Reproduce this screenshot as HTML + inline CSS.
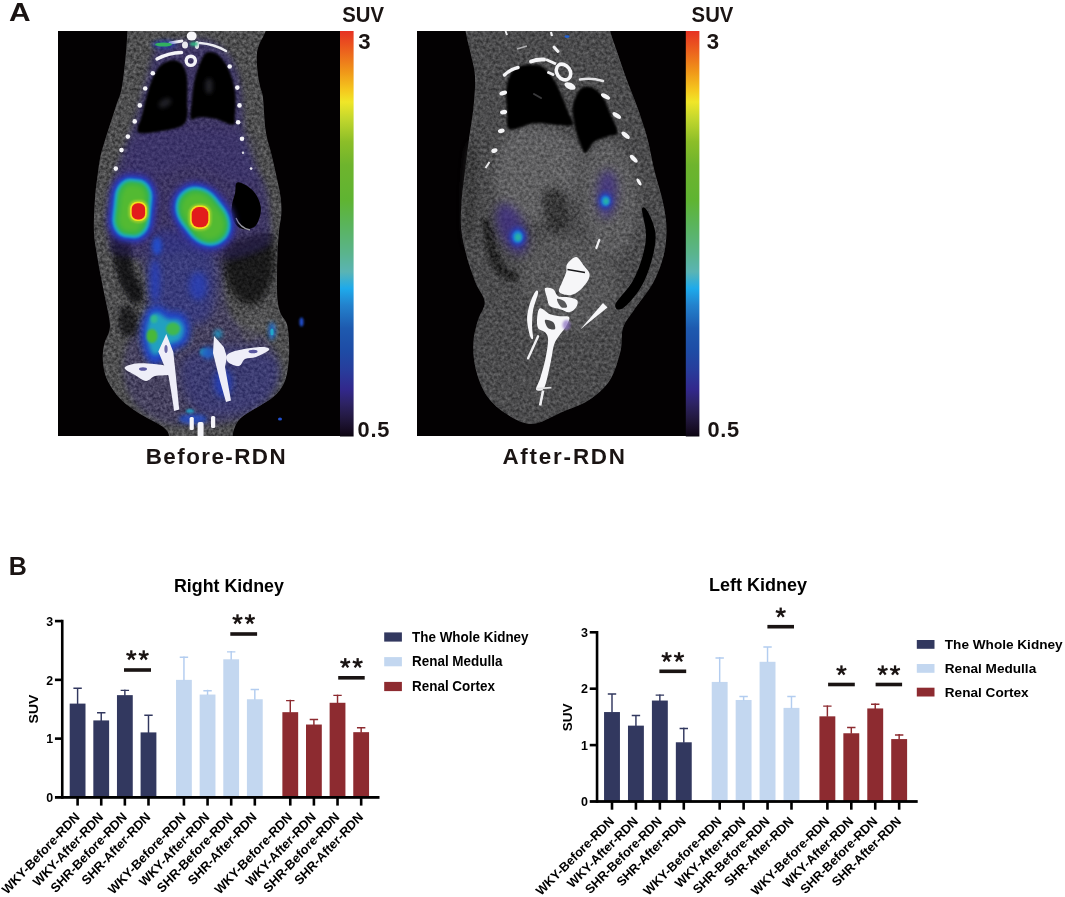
<!DOCTYPE html>
<html><head><meta charset="utf-8"><title>Figure</title>
<style>
html,body{margin:0;padding:0;background:#fff;}
body{width:1065px;height:897px;overflow:hidden;font-family:"Liberation Sans",sans-serif;}
svg{display:block;will-change:transform;}
svg text{font-family:"Liberation Sans",sans-serif;}
</style></head><body>
<svg width="1065" height="897" viewBox="0 0 1065 897">

<defs>
<filter id="b1" x="-50%" y="-50%" width="200%" height="200%"><feGaussianBlur stdDeviation="1"/></filter>
<filter id="b2" x="-50%" y="-50%" width="200%" height="200%"><feGaussianBlur stdDeviation="2"/></filter>
<filter id="b3" x="-50%" y="-50%" width="200%" height="200%"><feGaussianBlur stdDeviation="3.2"/></filter>
<filter id="b5" x="-50%" y="-50%" width="200%" height="200%"><feGaussianBlur stdDeviation="5"/></filter>
<filter id="b8" x="-50%" y="-50%" width="200%" height="200%"><feGaussianBlur stdDeviation="8"/></filter>
<filter id="b06" x="-50%" y="-50%" width="200%" height="200%"><feGaussianBlur stdDeviation="0.6"/></filter>
<filter id="grain" x="0" y="0" width="100%" height="100%" color-interpolation-filters="sRGB">
  <feTurbulence type="fractalNoise" baseFrequency="0.33" numOctaves="2" seed="7" result="n"/>
  <feColorMatrix in="n" type="matrix" values="1.1 0 0 0 -0.23  1.1 0 0 0 -0.23  1.1 0 0 0 -0.23  0 0 0 0 1"/>
  <feComposite operator="in" in2="SourceGraphic"/>
</filter>
<linearGradient id="cbar" x1="0" y1="0" x2="0" y2="1">
<stop offset="0" stop-color="#e63223"/>
<stop offset="0.042" stop-color="#eb5a1e"/>
<stop offset="0.10" stop-color="#f09619"/>
<stop offset="0.146" stop-color="#f5c81e"/>
<stop offset="0.175" stop-color="#f0e628"/>
<stop offset="0.216" stop-color="#c3d72d"/>
<stop offset="0.273" stop-color="#8cbe28"/>
<stop offset="0.331" stop-color="#6eb42d"/>
<stop offset="0.418" stop-color="#5fb432"/>
<stop offset="0.476" stop-color="#5ab45a"/>
<stop offset="0.548" stop-color="#5ab48c"/>
<stop offset="0.594" stop-color="#5ab4b4"/>
<stop offset="0.635" stop-color="#1eaaeb"/>
<stop offset="0.676" stop-color="#2382cd"/>
<stop offset="0.733" stop-color="#1e5aaf"/>
<stop offset="0.791" stop-color="#1e4ba5"/>
<stop offset="0.838" stop-color="#283c9b"/>
<stop offset="0.884" stop-color="#32288c"/>
<stop offset="0.919" stop-color="#2d2364"/>
<stop offset="0.953" stop-color="#231941"/>
<stop offset="0.988" stop-color="#140a1e"/>
<stop offset="1" stop-color="#0a050f"/>
</linearGradient>
<clipPath id="clip1"><rect x="0" y="0" width="282" height="405"/></clipPath>
<clipPath id="clip2"><rect x="0" y="0" width="269" height="405"/></clipPath>
</defs>

<rect width="1065" height="897" fill="#ffffff"/>
<!-- Panel letters -->
<text transform="translate(9.0,20.9) scale(1.15,1.0)" font-size="26" font-weight="bold" fill="#1a1413">A</text>
<text x="8.8" y="574.8" font-size="25" font-weight="bold" fill="#1a1413">B</text>
<!-- PET panel 1 -->
<g transform="translate(58,31)" clip-path="url(#clip1)">
<rect x="0" y="0" width="282" height="405" fill="#030102"/>
<clipPath id="body1"><path d="M69.6 -10.0C46.5 -8.3 69.8 -6.2 69.4 0.0C69.1 6.2 68.5 17.3 67.5 27.0C66.5 36.7 65.1 50.0 63.5 58.0C61.9 66.0 59.8 69.3 58.0 75.0C56.2 80.7 54.2 86.8 52.5 92.0C50.8 97.2 49.7 100.5 48.0 106.0C46.3 111.5 43.9 118.5 42.5 125.0C41.1 131.5 40.4 138.0 39.5 145.0C38.6 152.0 37.6 157.8 37.0 167.0C36.4 176.2 35.6 190.8 35.9 200.0C36.2 209.2 37.6 214.9 38.7 222.3C39.8 229.7 41.2 237.2 42.6 244.6C44.0 252.0 45.6 259.5 47.1 266.9C48.6 274.3 50.8 283.7 51.5 289.2C52.2 294.7 52.1 296.2 51.3 300.0C50.5 303.8 47.7 307.8 46.6 311.7C45.5 315.6 45.0 319.5 44.8 323.4C44.6 327.3 44.8 331.2 45.4 335.1C46.0 339.0 46.7 342.9 48.3 346.8C49.9 350.7 52.1 354.6 54.8 358.5C57.5 362.4 60.4 366.4 64.7 370.3C69.0 374.2 74.3 378.1 80.5 382.0C86.7 385.9 96.9 390.8 101.6 393.7C106.3 396.6 107.1 397.6 108.7 399.5C110.3 401.4 110.6 402.4 111.0 405.0C111.4 407.6 100.4 413.3 111.0 415.0C121.6 416.7 163.9 416.7 174.5 415.0C185.1 413.3 174.2 408.1 174.6 405.0C175.0 401.9 175.5 399.3 176.8 396.3C178.1 393.3 179.3 390.2 182.5 387.2C185.7 384.2 190.4 381.9 196.2 378.1C201.9 374.3 211.8 369.3 217.0 364.4C222.2 359.4 225.2 354.9 227.5 348.4C229.8 341.9 230.5 333.2 231.0 325.6C231.5 318.0 231.0 308.4 230.5 302.7C230.0 297.0 229.5 294.7 228.2 291.3C226.9 287.9 223.9 286.0 222.5 282.2C221.1 278.4 220.1 274.6 219.5 268.5C218.9 262.4 219.0 253.3 219.0 245.7C219.0 238.1 219.2 230.4 219.5 222.8C219.8 215.2 220.4 206.5 221.0 200.0C221.6 193.5 223.0 189.1 223.3 183.6C223.6 178.1 223.5 173.4 222.7 166.9C221.9 160.4 219.9 152.0 218.3 144.6C216.7 137.2 215.0 129.7 213.2 122.3C211.4 114.9 209.1 109.2 207.7 100.0C206.3 90.8 205.9 74.5 205.0 67.0C204.1 59.5 202.9 59.5 202.0 55.0C201.1 50.5 200.0 45.2 199.5 40.0C199.0 34.8 198.6 28.3 198.8 24.0C199.1 19.7 199.5 18.0 201.0 14.0C202.5 10.0 206.5 4.0 207.7 0.0C208.9 -4.0 231.0 -8.3 208.0 -10.0C185.0 -11.7 92.7 -11.7 69.6 -10.0Z"/></clipPath>
<path d="M69.6 -10.0C46.5 -8.3 69.8 -6.2 69.4 0.0C69.1 6.2 68.5 17.3 67.5 27.0C66.5 36.7 65.1 50.0 63.5 58.0C61.9 66.0 59.8 69.3 58.0 75.0C56.2 80.7 54.2 86.8 52.5 92.0C50.8 97.2 49.7 100.5 48.0 106.0C46.3 111.5 43.9 118.5 42.5 125.0C41.1 131.5 40.4 138.0 39.5 145.0C38.6 152.0 37.6 157.8 37.0 167.0C36.4 176.2 35.6 190.8 35.9 200.0C36.2 209.2 37.6 214.9 38.7 222.3C39.8 229.7 41.2 237.2 42.6 244.6C44.0 252.0 45.6 259.5 47.1 266.9C48.6 274.3 50.8 283.7 51.5 289.2C52.2 294.7 52.1 296.2 51.3 300.0C50.5 303.8 47.7 307.8 46.6 311.7C45.5 315.6 45.0 319.5 44.8 323.4C44.6 327.3 44.8 331.2 45.4 335.1C46.0 339.0 46.7 342.9 48.3 346.8C49.9 350.7 52.1 354.6 54.8 358.5C57.5 362.4 60.4 366.4 64.7 370.3C69.0 374.2 74.3 378.1 80.5 382.0C86.7 385.9 96.9 390.8 101.6 393.7C106.3 396.6 107.1 397.6 108.7 399.5C110.3 401.4 110.6 402.4 111.0 405.0C111.4 407.6 100.4 413.3 111.0 415.0C121.6 416.7 163.9 416.7 174.5 415.0C185.1 413.3 174.2 408.1 174.6 405.0C175.0 401.9 175.5 399.3 176.8 396.3C178.1 393.3 179.3 390.2 182.5 387.2C185.7 384.2 190.4 381.9 196.2 378.1C201.9 374.3 211.8 369.3 217.0 364.4C222.2 359.4 225.2 354.9 227.5 348.4C229.8 341.9 230.5 333.2 231.0 325.6C231.5 318.0 231.0 308.4 230.5 302.7C230.0 297.0 229.5 294.7 228.2 291.3C226.9 287.9 223.9 286.0 222.5 282.2C221.1 278.4 220.1 274.6 219.5 268.5C218.9 262.4 219.0 253.3 219.0 245.7C219.0 238.1 219.2 230.4 219.5 222.8C219.8 215.2 220.4 206.5 221.0 200.0C221.6 193.5 223.0 189.1 223.3 183.6C223.6 178.1 223.5 173.4 222.7 166.9C221.9 160.4 219.9 152.0 218.3 144.6C216.7 137.2 215.0 129.7 213.2 122.3C211.4 114.9 209.1 109.2 207.7 100.0C206.3 90.8 205.9 74.5 205.0 67.0C204.1 59.5 202.9 59.5 202.0 55.0C201.1 50.5 200.0 45.2 199.5 40.0C199.0 34.8 198.6 28.3 198.8 24.0C199.1 19.7 199.5 18.0 201.0 14.0C202.5 10.0 206.5 4.0 207.7 0.0C208.9 -4.0 231.0 -8.3 208.0 -10.0C185.0 -11.7 92.7 -11.7 69.6 -10.0Z" fill="#4e4e50" filter="url(#b06)"/>
<g clip-path="url(#body1)">
<path d="M100.0 16.0C95.0 21.8 93.0 35.2 90.0 45.0C87.0 54.8 85.0 65.0 82.0 75.0C79.0 85.0 75.3 95.8 72.0 105.0C68.7 114.2 65.0 120.8 62.0 130.0C59.0 139.2 55.8 148.3 54.0 160.0C52.2 171.7 50.7 189.7 51.0 200.0C51.3 210.3 51.5 217.3 56.0 222.0C60.5 226.7 72.5 223.3 78.0 228.0C83.5 232.7 87.3 241.7 89.0 250.0C90.7 258.3 89.8 270.0 88.0 278.0C86.2 286.0 81.3 291.3 78.0 298.0C74.7 304.7 70.0 310.2 68.0 318.0C66.0 325.8 65.0 336.7 66.0 345.0C67.0 353.3 69.7 361.3 74.0 368.0C78.3 374.7 84.7 380.7 92.0 385.0C99.3 389.3 105.0 392.8 118.0 394.0C131.0 395.2 155.5 395.3 170.0 392.0C184.5 388.7 196.7 381.3 205.0 374.0C213.3 366.7 218.0 356.7 220.0 348.0C222.0 339.3 219.8 329.3 217.0 322.0C214.2 314.7 209.8 309.3 203.0 304.0C196.2 298.7 182.2 297.7 176.0 290.0C169.8 282.3 166.7 268.0 166.0 258.0C165.3 248.0 165.0 237.0 172.0 230.0C179.0 223.0 201.3 221.0 208.0 216.0C214.7 211.0 212.0 209.3 212.0 200.0C212.0 190.7 210.5 170.8 208.0 160.0C205.5 149.2 200.5 143.7 197.0 135.0C193.5 126.3 189.2 118.0 187.0 108.0C184.8 98.0 185.0 84.7 184.0 75.0C183.0 65.3 183.2 58.3 181.0 50.0C178.8 41.7 176.2 31.7 171.0 25.0C165.8 18.3 158.5 12.5 150.0 10.0C141.5 7.5 128.3 9.0 120.0 10.0C111.7 11.0 105.0 10.2 100.0 16.0Z" fill="#45406a" filter="url(#b3)" opacity="0.9"/>
<path d="M54.0 206.0C55.8 199.3 67.7 200.2 71.0 205.0C74.3 209.8 71.8 226.2 74.0 235.0C76.2 243.8 82.5 251.8 84.0 258.0C85.5 264.2 85.2 270.3 83.0 272.0C80.8 273.7 74.8 272.5 71.0 268.0C67.2 263.5 62.8 255.3 60.0 245.0C57.2 234.7 52.2 212.7 54.0 206.0Z" fill="#101012" filter="url(#b2)" opacity="0.95"/>
<path d="M168.0 214.0C172.0 208.3 182.5 207.7 190.0 206.0C197.5 204.3 208.8 197.7 213.0 204.0C217.2 210.3 217.2 232.7 215.0 244.0C212.8 255.3 206.2 268.0 200.0 272.0C193.8 276.0 183.7 273.3 178.0 268.0C172.3 262.7 167.7 249.0 166.0 240.0C164.3 231.0 164.0 219.7 168.0 214.0Z" fill="#141416" filter="url(#b3)" opacity="0.9"/>
<path d="M62.0 277.0C64.3 272.8 74.2 273.7 77.0 278.0C79.8 282.3 81.3 298.8 79.0 303.0C76.7 307.2 65.8 307.3 63.0 303.0C60.2 298.7 59.7 281.2 62.0 277.0Z" fill="#18181a" filter="url(#b2)" opacity="0.8"/>
<path d="M181.0 289.0C183.2 283.8 197.8 279.3 203.0 280.0C208.2 280.7 214.2 287.8 212.0 293.0C209.8 298.2 195.2 311.7 190.0 311.0C184.8 310.3 178.8 294.2 181.0 289.0Z" fill="#58585c" filter="url(#b2)" opacity="0.8"/>
<path d="M69.6 -10.0C46.5 -8.3 69.8 -6.2 69.4 0.0C69.1 6.2 68.5 17.3 67.5 27.0C66.5 36.7 65.1 50.0 63.5 58.0C61.9 66.0 59.8 69.3 58.0 75.0C56.2 80.7 54.2 86.8 52.5 92.0C50.8 97.2 49.7 100.5 48.0 106.0C46.3 111.5 43.9 118.5 42.5 125.0C41.1 131.5 40.4 138.0 39.5 145.0C38.6 152.0 37.6 157.8 37.0 167.0C36.4 176.2 35.6 190.8 35.9 200.0C36.2 209.2 37.6 214.9 38.7 222.3C39.8 229.7 41.2 237.2 42.6 244.6C44.0 252.0 45.6 259.5 47.1 266.9C48.6 274.3 50.8 283.7 51.5 289.2C52.2 294.7 52.1 296.2 51.3 300.0C50.5 303.8 47.7 307.8 46.6 311.7C45.5 315.6 45.0 319.5 44.8 323.4C44.6 327.3 44.8 331.2 45.4 335.1C46.0 339.0 46.7 342.9 48.3 346.8C49.9 350.7 52.1 354.6 54.8 358.5C57.5 362.4 60.4 366.4 64.7 370.3C69.0 374.2 74.3 378.1 80.5 382.0C86.7 385.9 96.9 390.8 101.6 393.7C106.3 396.6 107.1 397.6 108.7 399.5C110.3 401.4 110.6 402.4 111.0 405.0C111.4 407.6 100.4 413.3 111.0 415.0C121.6 416.7 163.9 416.7 174.5 415.0C185.1 413.3 174.2 408.1 174.6 405.0C175.0 401.9 175.5 399.3 176.8 396.3C178.1 393.3 179.3 390.2 182.5 387.2C185.7 384.2 190.4 381.9 196.2 378.1C201.9 374.3 211.8 369.3 217.0 364.4C222.2 359.4 225.2 354.9 227.5 348.4C229.8 341.9 230.5 333.2 231.0 325.6C231.5 318.0 231.0 308.4 230.5 302.7C230.0 297.0 229.5 294.7 228.2 291.3C226.9 287.9 223.9 286.0 222.5 282.2C221.1 278.4 220.1 274.6 219.5 268.5C218.9 262.4 219.0 253.3 219.0 245.7C219.0 238.1 219.2 230.4 219.5 222.8C219.8 215.2 220.4 206.5 221.0 200.0C221.6 193.5 223.0 189.1 223.3 183.6C223.6 178.1 223.5 173.4 222.7 166.9C221.9 160.4 219.9 152.0 218.3 144.6C216.7 137.2 215.0 129.7 213.2 122.3C211.4 114.9 209.1 109.2 207.7 100.0C206.3 90.8 205.9 74.5 205.0 67.0C204.1 59.5 202.9 59.5 202.0 55.0C201.1 50.5 200.0 45.2 199.5 40.0C199.0 34.8 198.6 28.3 198.8 24.0C199.1 19.7 199.5 18.0 201.0 14.0C202.5 10.0 206.5 4.0 207.7 0.0C208.9 -4.0 231.0 -8.3 208.0 -10.0C185.0 -11.7 92.7 -11.7 69.6 -10.0Z" fill="#fff" filter="url(#grain)" opacity="0.4"/>
<path d="M55.0 207.0C56.5 200.5 67.0 201.3 70.0 206.0C73.0 210.7 70.8 226.3 73.0 235.0C75.2 243.7 81.5 252.0 83.0 258.0C84.5 264.0 83.8 269.5 82.0 271.0C80.2 272.5 75.5 271.3 72.0 267.0C68.5 262.7 63.8 255.0 61.0 245.0C58.2 235.0 53.5 213.5 55.0 207.0Z" fill="#08080a" filter="url(#b2)" opacity="0.62"/>
<path d="M170.0 216.0C173.7 210.7 183.0 209.7 190.0 208.0C197.0 206.3 208.0 200.0 212.0 206.0C216.0 212.0 216.0 233.3 214.0 244.0C212.0 254.7 205.7 266.3 200.0 270.0C194.3 273.7 185.3 271.0 180.0 266.0C174.7 261.0 169.7 248.3 168.0 240.0C166.3 231.7 166.3 221.3 170.0 216.0Z" fill="#0a0a0c" filter="url(#b3)" opacity="0.6"/>
<path d="M63.0 279.0C65.0 275.5 73.5 276.3 76.0 280.0C78.5 283.7 80.0 297.5 78.0 301.0C76.0 304.5 66.5 304.7 64.0 301.0C61.5 297.3 61.0 282.5 63.0 279.0Z" fill="#0a0a0c" filter="url(#b2)" opacity="0.5"/>
<path d="M100.0 16.0C95.0 21.8 93.0 35.2 90.0 45.0C87.0 54.8 85.0 65.0 82.0 75.0C79.0 85.0 75.3 95.8 72.0 105.0C68.7 114.2 65.0 120.8 62.0 130.0C59.0 139.2 55.8 148.3 54.0 160.0C52.2 171.7 50.7 189.7 51.0 200.0C51.3 210.3 49.5 217.7 56.0 222.0C62.5 226.3 77.7 226.3 90.0 226.0C102.3 225.7 116.3 219.7 130.0 220.0C143.7 220.3 159.0 228.7 172.0 228.0C185.0 227.3 201.3 220.7 208.0 216.0C214.7 211.3 212.0 209.3 212.0 200.0C212.0 190.7 210.5 170.8 208.0 160.0C205.5 149.2 200.5 143.7 197.0 135.0C193.5 126.3 189.2 118.0 187.0 108.0C184.8 98.0 185.0 84.7 184.0 75.0C183.0 65.3 183.2 58.3 181.0 50.0C178.8 41.7 176.2 31.7 171.0 25.0C165.8 18.3 158.5 12.5 150.0 10.0C141.5 7.5 128.3 9.0 120.0 10.0C111.7 11.0 105.0 10.2 100.0 16.0Z" fill="#33286e" filter="url(#b3)" opacity="0.36"/>
<path d="M100.0 16.0C95.0 21.8 93.0 35.2 90.0 45.0C87.0 54.8 85.0 65.0 82.0 75.0C79.0 85.0 75.3 95.8 72.0 105.0C68.7 114.2 65.0 120.8 62.0 130.0C59.0 139.2 55.8 148.3 54.0 160.0C52.2 171.7 50.7 189.7 51.0 200.0C51.3 210.3 51.5 217.3 56.0 222.0C60.5 226.7 72.5 223.3 78.0 228.0C83.5 232.7 87.3 241.7 89.0 250.0C90.7 258.3 89.8 270.0 88.0 278.0C86.2 286.0 81.3 291.3 78.0 298.0C74.7 304.7 70.0 310.2 68.0 318.0C66.0 325.8 65.0 336.7 66.0 345.0C67.0 353.3 69.7 361.3 74.0 368.0C78.3 374.7 84.7 380.7 92.0 385.0C99.3 389.3 105.0 392.8 118.0 394.0C131.0 395.2 155.5 395.3 170.0 392.0C184.5 388.7 196.7 381.3 205.0 374.0C213.3 366.7 218.0 356.7 220.0 348.0C222.0 339.3 219.8 329.3 217.0 322.0C214.2 314.7 209.8 309.3 203.0 304.0C196.2 298.7 182.2 297.7 176.0 290.0C169.8 282.3 166.7 268.0 166.0 258.0C165.3 248.0 165.0 237.0 172.0 230.0C179.0 223.0 201.3 221.0 208.0 216.0C214.7 211.0 212.0 209.3 212.0 200.0C212.0 190.7 210.5 170.8 208.0 160.0C205.5 149.2 200.5 143.7 197.0 135.0C193.5 126.3 189.2 118.0 187.0 108.0C184.8 98.0 185.0 84.7 184.0 75.0C183.0 65.3 183.2 58.3 181.0 50.0C178.8 41.7 176.2 31.7 171.0 25.0C165.8 18.3 158.5 12.5 150.0 10.0C141.5 7.5 128.3 9.0 120.0 10.0C111.7 11.0 105.0 10.2 100.0 16.0Z" fill="#33286e" filter="url(#b3)" opacity="0.12"/>
<path d="M81.0 104.0C92.2 98.3 116.8 97.0 135.0 97.0C153.2 97.0 179.5 97.7 190.0 104.0C200.5 110.3 197.3 126.8 198.0 135.0C198.7 143.2 198.5 150.7 194.0 153.0C189.5 155.3 180.8 152.0 171.0 149.0C161.2 146.0 146.2 135.8 135.0 135.0C123.8 134.2 114.5 141.7 104.0 144.0C93.5 146.3 78.0 151.2 72.0 149.0C66.0 146.8 66.5 138.5 68.0 131.0C69.5 123.5 69.8 109.7 81.0 104.0Z" fill="#3a3390" filter="url(#b5)" opacity="0.15"/>
<path d="M97.0 203.0C100.8 197.0 104.3 197.5 113.0 199.0C121.7 200.5 141.5 203.0 149.0 212.0C156.5 221.0 158.0 240.2 158.0 253.0C158.0 265.8 155.8 282.3 149.0 289.0C142.2 295.7 126.0 294.5 117.0 293.0C108.0 291.5 99.5 289.7 95.0 280.0C90.5 270.3 89.7 247.8 90.0 235.0C90.3 222.2 93.2 209.0 97.0 203.0Z" fill="#2c35a8" filter="url(#b5)" opacity="0.4"/>
<path d="M125.0 330.0C130.3 321.7 145.0 315.8 160.0 315.0C175.0 314.2 205.3 318.3 215.0 325.0C224.7 331.7 221.3 346.2 218.0 355.0C214.7 363.8 206.3 373.0 195.0 378.0C183.7 383.0 161.2 387.2 150.0 385.0C138.8 382.8 132.2 374.2 128.0 365.0C123.8 355.8 119.7 338.3 125.0 330.0Z" fill="#2a32a0" filter="url(#b5)" opacity="0.3"/>
<path d="M117.6 29.6C120.1 30.2 122.6 31.4 124.4 33.8C126.2 36.2 127.8 39.9 128.6 43.9C129.4 47.9 129.3 52.7 129.4 57.5C129.5 62.3 129.1 68.2 129.1 72.7C129.1 77.2 130.2 80.8 129.4 84.5C128.6 88.2 128.3 92.1 124.4 94.6C120.5 97.1 113.1 98.6 105.8 99.7C98.5 100.8 84.1 103.9 80.4 101.4C76.7 98.9 82.5 90.1 83.8 84.5C85.1 78.9 86.5 73.2 88.0 67.6C89.5 62.0 91.0 55.9 93.1 50.7C95.2 45.5 98.0 39.7 100.7 36.3C103.4 32.9 106.4 31.5 109.2 30.4C112.0 29.3 115.1 29.0 117.6 29.6Z" fill="#050305" filter="url(#b1)"/>
<path d="M151.4 21.1C153.7 21.1 157.1 21.6 159.9 23.7C162.7 25.8 165.8 29.3 168.3 33.8C170.8 38.3 173.6 45.1 175.1 50.7C176.6 56.3 177.3 62.0 177.6 67.6C177.9 73.2 177.2 80.1 176.8 84.5C176.4 88.9 178.2 93.2 175.1 93.8C172.0 94.4 163.8 89.2 158.2 87.9C152.6 86.6 145.5 86.2 141.3 86.2C137.1 86.2 134.1 90.4 132.8 87.9C131.5 85.4 133.1 77.2 133.7 71.0C134.3 64.8 134.9 56.9 136.2 50.7C137.5 44.5 139.6 38.3 141.3 33.8C143.0 29.3 144.6 25.8 146.3 23.7C148.0 21.6 149.1 21.1 151.4 21.1Z" fill="#050305" filter="url(#b1)"/>
<ellipse cx="107" cy="72" rx="7" ry="4" fill="#2a2a30" filter="url(#b2)" opacity="0.8" transform="rotate(-30 107 72)"/>
<ellipse cx="151" cy="55" rx="4" ry="8" fill="#2a2a30" filter="url(#b2)" opacity="0.8"/>
<path d="M178.7 151.8C180.3 150.3 183.9 152.3 186.5 153.5C189.1 154.7 192.1 156.9 194.3 159.1C196.5 161.3 198.5 164.1 199.9 166.9C201.3 169.7 202.3 172.8 202.7 175.8C203.1 178.8 202.9 181.5 202.1 184.7C201.2 187.9 199.6 192.6 197.6 194.8C195.6 197.0 192.4 197.7 189.8 198.1C187.2 198.5 184.2 198.1 182.0 197.0C179.8 195.9 177.9 193.8 176.5 191.4C175.1 189.0 174.1 185.7 173.7 182.5C173.3 179.3 173.6 175.8 174.2 172.5C174.8 169.2 176.2 165.8 177.0 162.4C177.8 159.0 177.1 153.3 178.7 151.8Z" fill="#040204" filter="url(#b06)"/>
<path d="M178 187 Q182 197 192 199" stroke="#9a9aa0" stroke-width="1.3" fill="none" filter="url(#b06)"/>
<circle cx="94.8" cy="42.2" r="2.3" fill="#f4f4f8"/>
<circle cx="87.2" cy="57.5" r="2.3" fill="#f4f4f8"/>
<circle cx="81.8" cy="74.4" r="2.3" fill="#f4f4f8"/>
<circle cx="76.7" cy="90.4" r="2.3" fill="#f4f4f8"/>
<circle cx="69.9" cy="105.6" r="2.3" fill="#f4f4f8"/>
<circle cx="63.5" cy="119.1" r="2.3" fill="#f4f4f8"/>
<circle cx="57.8" cy="137.6" r="2.3" fill="#f4f4f8"/>
<circle cx="171.7" cy="35.5" r="2.3" fill="#f4f4f8"/>
<circle cx="179.3" cy="56.6" r="2.3" fill="#f4f4f8"/>
<circle cx="181.5" cy="74.4" r="2.3" fill="#f4f4f8"/>
<circle cx="180.1" cy="91.3" r="2.3" fill="#f4f4f8"/>
<circle cx="184.0" cy="107.7" r="2.3" fill="#f4f4f8"/>
<circle cx="185" cy="121.8" r="1.2" fill="#d8d8e0"/>
<circle cx="193.1" cy="137.6" r="1.4" fill="#e8e8f0"/>
<g filter="url(#b06)">
<ellipse cx="133.7" cy="5" rx="5" ry="4.6" fill="#f8f8fa"/>
<circle cx="132.8" cy="29.8" r="4.6" fill="none" stroke="#f4f4f8" stroke-width="3.4"/>
<ellipse cx="127" cy="14" rx="3" ry="3.5" fill="#e8e8ee"/>
<ellipse cx="139" cy="14" rx="2.2" ry="4" fill="#e8e8ee"/>
<path d="M99 28 Q110 22 123.5 21.5" stroke="#f4f4f8" stroke-width="3.4" fill="none" stroke-linecap="round"/>
<path d="M142 12 Q156 13 168 20" stroke="#ececf2" stroke-width="2.6" fill="none" stroke-linecap="round"/>
<path d="M112 12 L124 10" stroke="#f0f0f4" stroke-width="2.8" fill="none" stroke-linecap="round"/>
</g>
<ellipse cx="106" cy="13.5" rx="12" ry="4" fill="#2040c0" filter="url(#b2)" opacity="0.7"/>
<ellipse cx="105.5" cy="13.5" rx="8.5" ry="2" fill="#30b060" filter="url(#b06)"/>
<ellipse cx="136" cy="13" rx="4" ry="2" fill="#30b080" filter="url(#b1)"/>
<rect x="50.0" y="142.3" width="48.6" height="70.0" rx="19.4" ry="24.3" fill="#3a30a0" transform="rotate(6 74.3 177.3)" filter="url(#b3)" opacity="0.9"/>
<rect x="53.0" y="145.3" width="42.6" height="64.0" rx="17.0" ry="21.3" fill="#1f3fc8" transform="rotate(6 74.3 177.3)" filter="url(#b2)" />
<rect x="55.4" y="147.7" width="37.8" height="59.2" rx="15.1" ry="18.9" fill="#1f9ed0" transform="rotate(6 74.3 177.3)" filter="url(#b1)" />
<rect x="57.2" y="149.5" width="34.2" height="55.6" rx="13.7" ry="17.1" fill="#22b0a0" transform="rotate(6 74.3 177.3)" filter="url(#b1)" />
<rect x="59.0" y="151.3" width="30.6" height="52.0" rx="12.2" ry="15.3" fill="#35b24a" transform="rotate(6 74.3 177.3)" filter="url(#b1)" />
<rect x="62.0" y="154.3" width="24.6" height="46.0" rx="9.8" ry="12.3" fill="#52ba30" transform="rotate(6 74.3 177.3)" filter="url(#b2)" />
<rect x="70.5" y="169.1" width="19.8" height="22.6" rx="8.4" fill="#9ccc2c" filter="url(#b1)"/>
<rect x="72.1" y="170.7" width="16.6" height="19.4" rx="7.1" fill="#f2e21e" filter="url(#b06)"/>
<rect x="73.7" y="172.3" width="13.4" height="16.2" rx="5.7" fill="#e21c1c" filter="url(#b06)"/>
<rect x="117.5" y="147.7" width="55.0" height="75.0" rx="26.1" ry="32.7" fill="#3a30a0" transform="rotate(-38 145.0 185.2)" filter="url(#b3)" opacity="0.9"/>
<rect x="120.5" y="150.7" width="49.0" height="69.0" rx="23.3" ry="29.1" fill="#1f3fc8" transform="rotate(-38 145.0 185.2)" filter="url(#b2)" />
<rect x="122.9" y="153.1" width="44.2" height="64.2" rx="21.0" ry="26.2" fill="#1f9ed0" transform="rotate(-38 145.0 185.2)" filter="url(#b1)" />
<rect x="124.7" y="154.9" width="40.6" height="60.6" rx="19.3" ry="24.1" fill="#22b0a0" transform="rotate(-38 145.0 185.2)" filter="url(#b1)" />
<rect x="126.5" y="156.7" width="37.0" height="57.0" rx="17.6" ry="22.0" fill="#35b24a" transform="rotate(-38 145.0 185.2)" filter="url(#b1)" />
<rect x="129.5" y="159.7" width="31.0" height="51.0" rx="14.7" ry="18.4" fill="#52ba30" transform="rotate(-38 145.0 185.2)" filter="url(#b2)" />
<rect x="130.5" y="172.9" width="23.0" height="26.6" rx="9.8" fill="#9ccc2c" filter="url(#b1)"/>
<rect x="132.1" y="174.5" width="19.8" height="23.4" rx="8.4" fill="#f2e21e" filter="url(#b06)"/>
<rect x="133.7" y="176.1" width="16.6" height="20.2" rx="7.1" fill="#e21c1c" filter="url(#b06)"/>
<ellipse cx="99" cy="215" rx="5" ry="9" fill="#2050d0" filter="url(#b2)" opacity="0.9"/>
<ellipse cx="97" cy="250" rx="5" ry="22" fill="#2540c0" filter="url(#b3)" opacity="0.8"/>
<ellipse cx="140" cy="255" rx="9" ry="14" fill="#2540c0" filter="url(#b3)" opacity="0.7"/>
<path d="M91.0 281.0C93.4 277.2 96.8 276.7 100.0 277.0C103.2 277.3 106.2 281.7 110.0 283.0C113.8 284.3 119.8 282.7 123.0 285.0C126.2 287.3 129.0 292.7 129.5 297.0C130.0 301.3 128.6 307.7 126.0 311.0C123.4 314.3 117.3 314.5 114.0 317.0C110.7 319.5 109.2 323.7 106.0 326.0C102.8 328.3 98.0 332.2 95.0 331.0C92.0 329.8 89.6 324.2 88.0 319.0C86.4 313.8 85.0 306.3 85.5 300.0C86.0 293.7 88.6 284.8 91.0 281.0Z" fill="#2244c8" stroke="#2244c8" stroke-width="5" filter="url(#b3)"/>
<path d="M93.0 285.0C94.8 282.0 97.2 281.5 100.0 282.0C102.8 282.5 106.5 286.8 110.0 288.0C113.5 289.2 118.3 287.3 121.0 289.0C123.7 290.7 125.8 294.7 126.0 298.0C126.2 301.3 124.3 306.5 122.0 309.0C119.7 311.5 115.0 311.2 112.0 313.0C109.0 314.8 106.7 318.2 104.0 320.0C101.3 321.8 98.2 324.8 96.0 324.0C93.8 323.2 92.2 319.0 91.0 315.0C89.8 311.0 88.7 305.0 89.0 300.0C89.3 295.0 91.2 288.0 93.0 285.0Z" fill="#20a0c0" filter="url(#b2)"/>
<ellipse cx="94" cy="305" rx="5.5" ry="7" fill="#48b838" filter="url(#b1)"/>
<ellipse cx="115" cy="298" rx="7" ry="6.5" fill="#40b850" filter="url(#b1)"/>
<ellipse cx="96" cy="288" rx="3.5" ry="4" fill="#30b890" filter="url(#b1)"/>
<ellipse cx="146" cy="321" rx="4" ry="3.5" fill="#20a0b0" filter="url(#b1)" opacity="0.9"/>
<ellipse cx="150" cy="322" rx="7" ry="6" fill="#2060c8" filter="url(#b2)" opacity="0.9"/>
<ellipse cx="160" cy="303" rx="4" ry="4" fill="#2098c8" filter="url(#b2)" opacity="0.9"/>
<ellipse cx="214" cy="300" rx="3.5" ry="9" fill="#2070d0" filter="url(#b2)" opacity="0.9"/>
<ellipse cx="214" cy="301" rx="1.6" ry="3.5" fill="#20a8c8" filter="url(#b06)"/>
<ellipse cx="165" cy="352" rx="9" ry="14" fill="#2040c0" filter="url(#b3)" opacity="0.8"/>
<ellipse cx="135" cy="388" rx="14" ry="5" fill="#2050d0" filter="url(#b2)" opacity="0.8"/>
<ellipse cx="132" cy="380" rx="4" ry="2" fill="#20a0c8" filter="url(#b1)" opacity="0.9"/>
<g filter="url(#b06)" fill="#eeeef8">
<path d="M66.5 337.0C66.7 335.1 73.1 333.2 78.0 332.5C82.9 331.8 90.5 332.4 96.0 333.0C101.5 333.6 108.5 334.2 111.0 336.0C113.5 337.8 113.3 342.0 111.0 343.5C108.7 345.0 100.8 343.9 97.0 345.0C93.2 346.1 91.3 350.2 88.0 350.0C84.7 349.8 80.6 346.2 77.0 344.0C73.4 341.8 66.3 338.9 66.5 337.0Z"/>
<path d="M108.3 303 L115.3 321 L117.8 344 L121.2 378.5 L116.2 380 L112.6 357 L110.5 345 L100.3 320.5 Z"/>
<path d="M170.0 323.0C172.7 320.8 180.2 319.2 186.0 318.0C191.8 316.8 200.8 315.8 205.0 316.0C209.2 316.2 212.2 317.3 211.0 319.0C209.8 320.7 202.0 324.5 198.0 326.0C194.0 327.5 189.8 326.5 187.0 328.0C184.2 329.5 183.8 334.5 181.0 335.0C178.2 335.5 171.8 333.0 170.0 331.0C168.2 329.0 167.3 325.2 170.0 323.0Z"/>
<path d="M156 305 L165.8 316 L169 326 L167 336 L173 369.5 L168 371 L162 350 L155 322 Z"/>
</g>
<ellipse cx="85" cy="338" rx="4" ry="1.8" fill="#5a58a0"/>
<ellipse cx="195" cy="320.5" rx="4.5" ry="1.8" fill="#5a58a0"/>
<ellipse cx="108" cy="318" rx="1.6" ry="4" fill="#6a68a8"/>
<g filter="url(#b06)" fill="#f4f4f8">
<rect x="131.6" y="386" width="4.2" height="13" rx="1.5"/>
<rect x="139.6" y="391" width="6" height="16" rx="2"/>
<rect x="153" y="385" width="4.2" height="12" rx="1.5"/>
</g>
</g>
<ellipse cx="243.5" cy="291" rx="2" ry="4.5" fill="#2050d0" filter="url(#b1)"/>
<ellipse cx="222" cy="388" rx="2" ry="1.5" fill="#2050d0" filter="url(#b06)"/>
</g>
<rect x="340" y="31" width="13.6" height="405.5" fill="url(#cbar)"/>
<text transform="translate(342.2,22.1) scale(1,1.06)" font-size="20.3" font-weight="bold" fill="#1a1413">SUV</text>
<text x="358.2" y="49.4" font-size="22.2" font-weight="bold" fill="#1a1413">3</text>
<text x="357.6" y="436.5" font-size="21.8" font-weight="bold" fill="#1a1413" letter-spacing="0.7">0.5</text>
<text x="216.4" y="464.0" font-size="22.4" font-weight="bold" fill="#1a1413" text-anchor="middle" letter-spacing="1.45">Before-RDN</text>
<!-- PET panel 2 -->
<g transform="translate(417,31)" clip-path="url(#clip2)">
<rect x="0" y="0" width="269" height="405" fill="#030102"/>
<path d="M48.6 -10.0C24.5 -8.3 47.8 -5.3 48.6 0.0C49.4 5.3 51.9 14.5 53.5 22.0C55.1 29.5 57.5 36.0 58.0 45.0C58.5 54.0 57.5 65.5 56.5 76.0C55.5 86.5 53.4 97.3 52.0 108.0C50.6 118.7 49.2 129.5 48.0 140.0C46.8 150.5 45.1 161.3 44.5 171.0C43.9 180.7 43.4 189.0 44.2 198.0C45.1 207.0 47.2 216.0 49.6 225.0C52.0 234.0 55.7 244.3 58.7 252.0C61.7 259.7 67.3 264.8 67.7 271.0C68.1 277.2 62.9 282.3 61.0 289.0C59.1 295.7 56.8 302.8 56.4 311.0C56.0 319.2 56.5 329.0 58.7 338.0C61.0 347.0 64.6 357.4 69.9 365.0C75.2 372.6 82.7 378.9 90.3 383.6C97.9 388.3 106.5 393.4 115.5 393.0C124.5 392.6 134.6 385.5 144.0 381.5C153.4 377.5 163.8 374.4 172.0 369.0C180.2 363.6 187.8 357.2 193.0 349.0C198.2 340.8 201.3 328.7 203.5 320.0C205.7 311.3 203.8 303.8 206.0 297.0C208.2 290.2 212.0 286.5 217.0 279.0C222.0 271.5 231.1 261.0 236.0 252.0C240.9 243.0 244.2 234.0 246.5 225.0C248.8 216.0 249.6 207.0 249.5 198.0C249.4 189.0 247.9 180.7 245.9 171.0C243.9 161.3 240.1 150.5 237.5 140.0C234.9 129.5 233.2 118.3 230.5 108.0C227.8 97.7 224.5 88.0 221.0 78.0C217.5 68.0 212.9 57.3 209.5 48.0C206.1 38.7 203.2 30.0 200.5 22.0C197.8 14.0 194.4 5.3 193.2 0.0C192.0 -5.3 217.3 -8.3 193.2 -10.0C169.1 -11.7 72.7 -11.7 48.6 -10.0Z" fill="#4a4a4c" filter="url(#b06)"/>
<path d="M90.0 104.0C98.2 95.3 114.7 95.5 126.0 97.0C137.3 98.5 152.0 105.2 158.0 113.0C164.0 120.8 163.5 132.8 162.0 144.0C160.5 155.2 156.5 172.3 149.0 180.0C141.5 187.7 126.8 190.0 117.0 190.0C107.2 190.0 96.7 186.8 90.0 180.0C83.3 173.2 77.0 161.7 77.0 149.0C77.0 136.3 81.8 112.7 90.0 104.0Z" fill="#6c6c6e" filter="url(#b5)" opacity="0.9"/>
<path d="M167.0 131.0C171.2 122.0 182.5 108.0 190.0 108.0C197.5 108.0 206.8 120.5 212.0 131.0C217.2 141.5 221.0 157.5 221.0 171.0C221.0 184.5 217.2 202.8 212.0 212.0C206.8 221.2 196.8 228.2 190.0 226.0C183.2 223.8 175.2 209.7 171.0 199.0C166.8 188.3 165.7 173.3 165.0 162.0C164.3 150.7 162.8 140.0 167.0 131.0Z" fill="#68686a" filter="url(#b5)" opacity="0.85"/>
<path d="M110.0 215.0C117.5 206.7 136.7 203.3 150.0 205.0C163.3 206.7 181.7 214.2 190.0 225.0C198.3 235.8 203.3 257.5 200.0 270.0C196.7 282.5 181.7 296.7 170.0 300.0C158.3 303.3 140.8 297.5 130.0 290.0C119.2 282.5 108.3 267.5 105.0 255.0C101.7 242.5 102.5 223.3 110.0 215.0Z" fill="#606062" filter="url(#b5)" opacity="0.7"/>
<path d="M65.0 190.0C65.3 184.0 71.5 187.8 74.0 192.0C76.5 196.2 77.7 207.8 80.0 215.0C82.3 222.2 84.5 230.3 88.0 235.0C91.5 239.7 99.2 240.5 101.0 243.0C102.8 245.5 101.8 249.5 99.0 250.0C96.2 250.5 88.5 249.7 84.0 246.0C79.5 242.3 75.2 237.3 72.0 228.0C68.8 218.7 64.7 196.0 65.0 190.0Z" fill="#0e0e10" filter="url(#b2)" opacity="0.9"/>
<path d="M126.0 162.0C128.3 156.0 141.7 157.0 146.0 160.0C150.3 163.0 151.7 173.7 152.0 180.0C152.3 186.3 151.3 195.3 148.0 198.0C144.7 200.7 135.7 202.0 132.0 196.0C128.3 190.0 123.7 168.0 126.0 162.0Z" fill="#1c1c1e" filter="url(#b3)" opacity="0.8"/>
<path d="M50.0 120.0C52.3 110.0 58.7 108.3 60.0 120.0C61.3 131.7 59.7 174.2 58.0 190.0C56.3 205.8 52.0 216.7 50.0 215.0C48.0 213.3 46.0 195.8 46.0 180.0C46.0 164.2 47.7 130.0 50.0 120.0Z" fill="#2a2a2c" filter="url(#b3)" opacity="0.7"/>
<path d="M48.6 -10.0C24.5 -8.3 47.8 -5.3 48.6 0.0C49.4 5.3 51.9 14.5 53.5 22.0C55.1 29.5 57.5 36.0 58.0 45.0C58.5 54.0 57.5 65.5 56.5 76.0C55.5 86.5 53.4 97.3 52.0 108.0C50.6 118.7 49.2 129.5 48.0 140.0C46.8 150.5 45.1 161.3 44.5 171.0C43.9 180.7 43.4 189.0 44.2 198.0C45.1 207.0 47.2 216.0 49.6 225.0C52.0 234.0 55.7 244.3 58.7 252.0C61.7 259.7 67.3 264.8 67.7 271.0C68.1 277.2 62.9 282.3 61.0 289.0C59.1 295.7 56.8 302.8 56.4 311.0C56.0 319.2 56.5 329.0 58.7 338.0C61.0 347.0 64.6 357.4 69.9 365.0C75.2 372.6 82.7 378.9 90.3 383.6C97.9 388.3 106.5 393.4 115.5 393.0C124.5 392.6 134.6 385.5 144.0 381.5C153.4 377.5 163.8 374.4 172.0 369.0C180.2 363.6 187.8 357.2 193.0 349.0C198.2 340.8 201.3 328.7 203.5 320.0C205.7 311.3 203.8 303.8 206.0 297.0C208.2 290.2 212.0 286.5 217.0 279.0C222.0 271.5 231.1 261.0 236.0 252.0C240.9 243.0 244.2 234.0 246.5 225.0C248.8 216.0 249.6 207.0 249.5 198.0C249.4 189.0 247.9 180.7 245.9 171.0C243.9 161.3 240.1 150.5 237.5 140.0C234.9 129.5 233.2 118.3 230.5 108.0C227.8 97.7 224.5 88.0 221.0 78.0C217.5 68.0 212.9 57.3 209.5 48.0C206.1 38.7 203.2 30.0 200.5 22.0C197.8 14.0 194.4 5.3 193.2 0.0C192.0 -5.3 217.3 -8.3 193.2 -10.0C169.1 -11.7 72.7 -11.7 48.6 -10.0Z" fill="#fff" filter="url(#grain)" opacity="0.32"/>
<path d="M225.0 178.0C225.3 174.3 228.8 176.8 231.0 181.0C233.2 185.2 237.9 194.8 238.5 203.0C239.1 211.2 237.0 221.0 234.5 230.0C232.0 239.0 228.3 249.1 223.5 257.0C218.7 264.9 209.7 274.8 205.5 277.5C201.3 280.2 196.8 277.5 198.5 273.0C200.2 268.5 211.0 258.4 215.5 250.5C220.0 242.6 223.2 233.4 225.5 225.5C227.8 217.6 229.1 210.9 229.0 203.0C228.9 195.1 224.7 181.7 225.0 178.0Z" fill="#060406" filter="url(#b06)"/>
<path d="M99.3 36.6C102.8 34.4 108.1 33.9 112.5 33.8C116.9 33.6 121.5 33.2 125.6 35.7C129.7 38.2 133.8 44.1 136.9 48.8C140.0 53.5 141.9 58.2 144.4 63.8C146.9 69.4 150.0 77.6 151.9 82.6C153.8 87.6 157.6 92.0 155.7 93.9C153.8 95.8 147.0 94.2 140.7 93.9C134.4 93.6 125.0 91.4 118.1 92.0C111.2 92.6 103.8 96.9 99.3 97.7C94.8 98.5 92.5 99.8 90.9 96.7C89.3 93.6 90.2 84.7 89.9 78.9C89.6 73.1 88.7 67.3 89.0 62.0C89.3 56.7 90.1 51.1 91.8 46.9C93.5 42.7 95.8 38.8 99.3 36.6Z" fill="#050305" filter="url(#b1)"/>
<path d="M163.2 58.2C166.3 55.1 170.8 55.0 174.5 56.3C178.2 57.5 182.6 61.3 185.7 65.7C188.8 70.1 190.7 76.6 193.2 82.6C195.7 88.5 201.0 97.6 200.7 101.4C200.4 105.2 195.3 103.6 191.4 105.2C187.5 106.8 181.0 108.0 177.2 110.8C173.4 113.6 171.1 121.8 168.8 122.1C166.5 122.4 165.1 117.4 163.2 112.7C161.3 108.0 158.8 100.2 157.6 93.9C156.3 87.6 154.8 81.0 155.7 75.1C156.6 69.1 160.1 61.3 163.2 58.2Z" fill="#050305" filter="url(#b1)"/>
<path d="M117 63 L124 67" stroke="#3a3a3c" stroke-width="2" stroke-linecap="round"/>
<g filter="url(#b06)" fill="#f4f4f6">
<path d="M87.5 44 Q93 38.5 101 36.5" stroke="#f4f4f6" stroke-width="3.4" fill="none" stroke-linecap="round"/>
<ellipse cx="86.2" cy="62.0" rx="4" ry="2.2" transform="rotate(-20 86.2 62.0)"/>
<ellipse cx="86.6" cy="81.1" rx="3.6" ry="2.2" transform="rotate(-10 86.6 81.1)"/>
<ellipse cx="84.3" cy="99.9" rx="3.4" ry="2.2" transform="rotate(-10 84.3 99.9)"/>
<ellipse cx="77.4" cy="119.6" rx="3.2" ry="2.2" transform="rotate(-20 77.4 119.6)"/>
<path d="M68.5 137 L72.5 131" stroke="#e8e8ea" stroke-width="2"/>
<ellipse cx="188.5" cy="65.4" rx="5" ry="2.2" transform="rotate(28 188.5 65.4)"/>
<ellipse cx="199.8" cy="84.5" rx="5" ry="2.2" transform="rotate(35 199.8 84.5)"/>
<ellipse cx="208.6" cy="104.2" rx="5" ry="2.2" transform="rotate(40 208.6 104.2)"/>
<ellipse cx="216.7" cy="127.7" rx="5" ry="2.2" transform="rotate(45 216.7 127.7)"/>
<ellipse cx="222" cy="151" rx="4" ry="1.6" transform="rotate(60 222 151)"/>
<path d="M114 30.5 Q120 28 127 28.5" stroke="#f4f4f6" stroke-width="4" fill="none" stroke-linecap="round"/>
<path d="M100 18 L110 15" stroke="#b0b0b2" stroke-width="1.8" fill="none"/>
<path d="M137 16 L141 20.5" stroke="#f0f0f2" stroke-width="3" fill="none" stroke-linecap="round"/>
<path d="M88.5 0 L90 4" stroke="#f0f0f2" stroke-width="2" fill="none"/>
<path d="M134 1 L135 5" stroke="#f0f0f2" stroke-width="2.2" fill="none"/>
<path d="M163 48.5 Q174 46.5 186 50" stroke="#e4e4e6" stroke-width="2.6" fill="none" stroke-linecap="round"/>
<path d="M131.5 41.5 L136 43.5" stroke="#f0f0f2" stroke-width="3" fill="none" stroke-linecap="round"/>
<ellipse cx="146.5" cy="41" rx="6.6" ry="8.4" transform="rotate(-35 146.5 41)" fill="none" stroke="#f6f6f8" stroke-width="3.6"/>
<path d="M129 28.5 L139 33" stroke="#f4f4f6" stroke-width="3"/>
<ellipse cx="153" cy="55" rx="6" ry="3.2" transform="rotate(25 153 55)"/>
</g>
<ellipse cx="95" cy="198" rx="13" ry="27" fill="#3c2c8a" filter="url(#b5)" opacity="0.7" transform="rotate(-22 95 198)"/>
<ellipse cx="100.6" cy="205.8" rx="8.5" ry="10.0" fill="#2a40b8" filter="url(#b2)" opacity="0.95"/>
<ellipse cx="100.6" cy="205.8" rx="5.2" ry="6.2" fill="#1e80d8" filter="url(#b1)"/>
<ellipse cx="101.1" cy="206.3" rx="3.2" ry="3.8" fill="#25b0a8" filter="url(#b1)"/>
<ellipse cx="190" cy="163" rx="10" ry="24" fill="#3c2c8a" filter="url(#b5)" opacity="0.7" transform="rotate(3 190 163)"/>
<ellipse cx="188.5" cy="169.7" rx="7.225" ry="8.5" fill="#2a40b8" filter="url(#b2)" opacity="0.95"/>
<ellipse cx="188.5" cy="169.7" rx="4.42" ry="5.27" fill="#1e80d8" filter="url(#b1)"/>
<ellipse cx="189.0" cy="170.2" rx="2.72" ry="3.23" fill="#25b0a8" filter="url(#b1)"/>
<ellipse cx="150" cy="5.6" rx="2.6" ry="1.4" fill="#2060d0" filter="url(#b06)"/>
<g filter="url(#b06)" fill="#f6f6f8">
<path d="M150.2 233.1C151.9 230.6 156.4 225.7 159.2 226.0C162.0 226.3 165.0 232.4 167.2 235.1C169.4 237.8 171.6 239.8 172.3 242.1C173.0 244.4 172.7 246.3 171.2 249.1C169.7 251.9 166.2 256.6 163.2 259.1C160.2 261.6 156.7 263.9 153.2 264.2C149.7 264.5 143.5 263.3 142.2 261.1C140.9 258.9 144.0 254.4 145.2 251.1C146.4 247.8 148.4 244.1 149.2 241.1C150.0 238.1 148.5 235.6 150.2 233.1Z"/>
<path d="M128.1 257.1C129.1 255.6 133.9 256.8 136.1 258.1C138.3 259.5 138.7 263.9 141.2 265.2C143.7 266.5 148.0 265.5 151.2 266.2C154.4 266.9 158.9 267.5 160.2 269.2C161.5 270.9 160.5 274.2 159.2 276.2C157.9 278.2 154.9 280.9 152.2 281.2C149.5 281.5 146.4 279.2 143.2 278.2C140.0 277.2 135.3 277.0 133.1 275.2C130.9 273.4 130.9 270.2 130.1 267.2C129.3 264.2 127.1 258.6 128.1 257.1Z"/>
<path d="M123.1 277.2C125.3 276.5 129.8 281.9 133.1 283.2C136.4 284.5 140.0 284.7 143.2 285.2C146.4 285.7 151.2 284.5 152.2 286.2C153.2 287.9 150.7 292.3 149.2 295.2C147.7 298.1 145.2 300.3 143.2 303.3C141.2 306.3 138.7 309.0 137.2 313.3C135.7 317.6 135.3 323.6 134.1 329.3C132.9 335.0 131.4 342.5 130.1 347.4C128.8 352.2 127.9 356.6 126.1 358.4C124.3 360.2 119.6 360.2 119.1 358.4C118.6 356.6 121.6 352.2 123.1 347.4C124.6 342.5 126.8 335.6 128.1 329.3C129.4 323.0 131.1 314.0 131.1 309.3C131.1 304.6 129.8 303.3 128.1 301.3C126.4 299.3 122.4 299.6 121.1 297.2C119.8 294.8 119.8 290.5 120.1 287.2C120.4 283.9 120.9 277.9 123.1 277.2Z"/>
<path d="M118.1 261.1C119.6 258.9 121.4 259.1 121.1 262.1C120.8 265.1 117.1 273.7 116.1 279.2C115.1 284.7 115.1 290.5 115.1 295.2C115.1 299.9 116.4 305.6 116.1 307.3C115.8 309.0 114.1 308.3 113.1 305.3C112.1 302.3 110.3 294.2 110.1 289.2C109.9 284.2 110.8 279.9 112.1 275.2C113.4 270.5 116.6 263.3 118.1 261.1Z"/>
<path d="M121.1 305.3 L111.1 327.3" stroke="#f0f0f2" stroke-width="2.4" stroke-linecap="round"/>
<path d="M186 272 L190.5 276.5 L163.2 298.5 Z"/>
<path d="M182.3 209 L179.3 217" stroke="#f0f0f2" stroke-width="2.2" stroke-linecap="round"/>
<path d="M126.1 359.4 L123.1 374.5" stroke="#f0f0f2" stroke-width="2.6"/>
<path d="M119.1 357.6 L134.5 356.6" stroke="#e0e0e2" stroke-width="1.6"/>
</g>
<path d="M150.5 238.5 L168 241.5" stroke="#18181a" stroke-width="1.6"/>
<path d="M140.0 268.0C140.5 267.0 145.3 268.7 147.0 270.0C148.7 271.3 150.5 275.0 150.0 276.0C149.5 277.0 145.7 277.3 144.0 276.0C142.3 274.7 139.5 269.0 140.0 268.0Z" fill="#58585a"/>
<path d="M128.0 289.0C128.8 288.0 134.3 289.5 136.0 291.0C137.7 292.5 138.8 297.0 138.0 298.0C137.2 299.0 132.7 298.5 131.0 297.0C129.3 295.5 127.2 290.0 128.0 289.0Z" fill="#4a4a4c"/>
<ellipse cx="149.5" cy="294" rx="4" ry="5" fill="#8a70c0" filter="url(#b1)" opacity="0.7"/>
</g>
<rect x="685.8" y="31" width="13.6" height="405.5" fill="url(#cbar)"/>
<text transform="translate(691.6,22.1) scale(1,1.06)" font-size="20.3" font-weight="bold" fill="#1a1413">SUV</text>
<text x="706.8" y="49.4" font-size="22.2" font-weight="bold" fill="#1a1413">3</text>
<text x="707.4" y="436.5" font-size="21.8" font-weight="bold" fill="#1a1413" letter-spacing="0.7">0.5</text>
<text x="564.6" y="464.0" font-size="22.4" font-weight="bold" fill="#1a1413" text-anchor="middle" letter-spacing="1.8">After-RDN</text>
<!-- Charts -->
<rect x="69.70" y="703.60" width="15.80" height="93.80" fill="#32385f"/>
<path d="M77.60 704.10V687.50M73.40 688.30H81.80" stroke="#32385f" stroke-width="1.45" fill="none"/>
<rect x="93.33" y="720.41" width="15.80" height="76.99" fill="#32385f"/>
<path d="M101.23 720.91V711.89M97.03 712.69H105.43" stroke="#32385f" stroke-width="1.45" fill="none"/>
<rect x="116.96" y="695.14" width="15.80" height="102.26" fill="#32385f"/>
<path d="M124.86 695.64V689.56M120.66 690.36H129.06" stroke="#32385f" stroke-width="1.45" fill="none"/>
<rect x="140.59" y="732.40" width="15.80" height="65.00" fill="#32385f"/>
<path d="M148.49 732.90V714.53M144.29 715.33H152.69" stroke="#32385f" stroke-width="1.45" fill="none"/>
<rect x="176.03" y="679.86" width="15.80" height="117.54" fill="#c3d7f0"/>
<path d="M183.94 680.36V656.35M179.74 657.15H188.13" stroke="#b3cdf0" stroke-width="1.45" fill="none"/>
<rect x="199.66" y="694.55" width="15.80" height="102.85" fill="#c3d7f0"/>
<path d="M207.56 695.05V689.85M203.37 690.65H211.76" stroke="#b3cdf0" stroke-width="1.45" fill="none"/>
<rect x="223.29" y="659.29" width="15.80" height="138.11" fill="#c3d7f0"/>
<path d="M231.19 659.79V651.06M227.00 651.86H235.39" stroke="#b3cdf0" stroke-width="1.45" fill="none"/>
<rect x="246.92" y="699.25" width="15.80" height="98.15" fill="#c3d7f0"/>
<path d="M254.82 699.75V688.68M250.62 689.48H259.02" stroke="#b3cdf0" stroke-width="1.45" fill="none"/>
<rect x="282.37" y="712.18" width="15.80" height="85.22" fill="#8d2b30"/>
<path d="M290.27 712.68V699.84M286.07 700.64H294.47" stroke="#8d2b30" stroke-width="1.45" fill="none"/>
<rect x="306.00" y="724.53" width="15.80" height="72.87" fill="#8d2b30"/>
<path d="M313.90 725.03V718.65M309.70 719.45H318.10" stroke="#8d2b30" stroke-width="1.45" fill="none"/>
<rect x="329.63" y="702.78" width="15.80" height="94.62" fill="#8d2b30"/>
<path d="M337.53 703.28V694.55M333.33 695.35H341.73" stroke="#8d2b30" stroke-width="1.45" fill="none"/>
<rect x="353.26" y="732.17" width="15.80" height="65.23" fill="#8d2b30"/>
<path d="M361.16 732.67V726.88M356.96 727.68H365.36" stroke="#8d2b30" stroke-width="1.45" fill="none"/>
<rect x="60.95" y="619.79" width="2.6" height="178.91" fill="#000000"/>
<rect x="54.95" y="796.00" width="324.55" height="2.8" fill="#000000"/>
<rect x="54.95" y="737.33" width="7.3" height="2.6" fill="#000000"/>
<rect x="54.95" y="678.56" width="7.3" height="2.6" fill="#000000"/>
<rect x="54.95" y="619.79" width="7.3" height="2.6" fill="#000000"/>
<text transform="translate(53.05,802.09) scale(0.99,1.043)" text-anchor="end" font-size="12.5" font-weight="bold" fill="#000">0</text>
<text transform="translate(53.05,743.32) scale(0.99,1.043)" text-anchor="end" font-size="12.5" font-weight="bold" fill="#000">1</text>
<text transform="translate(53.05,684.55) scale(0.99,1.043)" text-anchor="end" font-size="12.5" font-weight="bold" fill="#000">2</text>
<text transform="translate(53.05,625.78) scale(0.99,1.043)" text-anchor="end" font-size="12.5" font-weight="bold" fill="#000">3</text>
<rect x="76.30" y="797.40" width="2.6" height="8.2" fill="#000000"/>
<rect x="99.93" y="797.40" width="2.6" height="8.2" fill="#000000"/>
<rect x="123.56" y="797.40" width="2.6" height="8.2" fill="#000000"/>
<rect x="147.19" y="797.40" width="2.6" height="8.2" fill="#000000"/>
<rect x="182.63" y="797.40" width="2.6" height="8.2" fill="#000000"/>
<rect x="206.26" y="797.40" width="2.6" height="8.2" fill="#000000"/>
<rect x="229.89" y="797.40" width="2.6" height="8.2" fill="#000000"/>
<rect x="253.52" y="797.40" width="2.6" height="8.2" fill="#000000"/>
<rect x="288.97" y="797.40" width="2.6" height="8.2" fill="#000000"/>
<rect x="312.60" y="797.40" width="2.6" height="8.2" fill="#000000"/>
<rect x="336.23" y="797.40" width="2.6" height="8.2" fill="#000000"/>
<rect x="359.86" y="797.40" width="2.6" height="8.2" fill="#000000"/>
<text transform="translate(80.30,817.80) scale(0.99,1.043) rotate(-45)" text-anchor="end" font-size="12.65" font-weight="bold" fill="#000">WKY-Before-RDN</text>
<text transform="translate(103.93,817.80) scale(0.99,1.043) rotate(-45)" text-anchor="end" font-size="12.65" font-weight="bold" fill="#000">WKY-After-RDN</text>
<text transform="translate(127.56,817.80) scale(0.99,1.043) rotate(-45)" text-anchor="end" font-size="12.65" font-weight="bold" fill="#000">SHR-Before-RDN</text>
<text transform="translate(151.19,817.80) scale(0.99,1.043) rotate(-45)" text-anchor="end" font-size="12.65" font-weight="bold" fill="#000">SHR-After-RDN</text>
<text transform="translate(186.63,817.80) scale(0.99,1.043) rotate(-45)" text-anchor="end" font-size="12.65" font-weight="bold" fill="#000">WKY-Before-RDN</text>
<text transform="translate(210.26,817.80) scale(0.99,1.043) rotate(-45)" text-anchor="end" font-size="12.65" font-weight="bold" fill="#000">WKY-After-RDN</text>
<text transform="translate(233.89,817.80) scale(0.99,1.043) rotate(-45)" text-anchor="end" font-size="12.65" font-weight="bold" fill="#000">SHR-Before-RDN</text>
<text transform="translate(257.52,817.80) scale(0.99,1.043) rotate(-45)" text-anchor="end" font-size="12.65" font-weight="bold" fill="#000">SHR-After-RDN</text>
<text transform="translate(292.97,817.80) scale(0.99,1.043) rotate(-45)" text-anchor="end" font-size="12.65" font-weight="bold" fill="#000">WKY-Before-RDN</text>
<text transform="translate(316.60,817.80) scale(0.99,1.043) rotate(-45)" text-anchor="end" font-size="12.65" font-weight="bold" fill="#000">WKY-After-RDN</text>
<text transform="translate(340.23,817.80) scale(0.99,1.043) rotate(-45)" text-anchor="end" font-size="12.65" font-weight="bold" fill="#000">SHR-Before-RDN</text>
<text transform="translate(363.86,817.80) scale(0.99,1.043) rotate(-45)" text-anchor="end" font-size="12.65" font-weight="bold" fill="#000">SHR-After-RDN</text>
<text transform="translate(38.00,709.00) scale(0.99,1.043) rotate(-90)" text-anchor="middle" font-size="13.5" font-weight="bold" fill="#000">SUV</text>
<text transform="translate(174.00,592.00) scale(0.99,1.043)" font-size="18" font-weight="bold" fill="#000">Right Kidney</text>
<rect x="124.00" y="668.20" width="27.00" height="3.6" fill="#1a1413"/>
<g stroke="#1a1413" stroke-width="2.3" stroke-linecap="butt"><line x1="131.30" y1="655.40" x2="131.30" y2="650.30"/><line x1="131.30" y1="655.40" x2="136.15" y2="653.82"/><line x1="131.30" y1="655.40" x2="134.30" y2="659.53"/><line x1="131.30" y1="655.40" x2="128.30" y2="659.53"/><line x1="131.30" y1="655.40" x2="126.45" y2="653.82"/></g><g stroke="#1a1413" stroke-width="2.3" stroke-linecap="butt"><line x1="143.70" y1="655.40" x2="143.70" y2="650.30"/><line x1="143.70" y1="655.40" x2="148.55" y2="653.82"/><line x1="143.70" y1="655.40" x2="146.70" y2="659.53"/><line x1="143.70" y1="655.40" x2="140.70" y2="659.53"/><line x1="143.70" y1="655.40" x2="138.85" y2="653.82"/></g>
<rect x="230.30" y="632.20" width="26.80" height="3.6" fill="#1a1413"/>
<g stroke="#1a1413" stroke-width="2.3" stroke-linecap="butt"><line x1="237.50" y1="619.40" x2="237.50" y2="614.30"/><line x1="237.50" y1="619.40" x2="242.35" y2="617.82"/><line x1="237.50" y1="619.40" x2="240.50" y2="623.53"/><line x1="237.50" y1="619.40" x2="234.50" y2="623.53"/><line x1="237.50" y1="619.40" x2="232.65" y2="617.82"/></g><g stroke="#1a1413" stroke-width="2.3" stroke-linecap="butt"><line x1="249.90" y1="619.40" x2="249.90" y2="614.30"/><line x1="249.90" y1="619.40" x2="254.75" y2="617.82"/><line x1="249.90" y1="619.40" x2="252.90" y2="623.53"/><line x1="249.90" y1="619.40" x2="246.90" y2="623.53"/><line x1="249.90" y1="619.40" x2="245.05" y2="617.82"/></g>
<rect x="338.20" y="676.00" width="26.50" height="3.6" fill="#1a1413"/>
<g stroke="#1a1413" stroke-width="2.3" stroke-linecap="butt"><line x1="345.25" y1="663.20" x2="345.25" y2="658.10"/><line x1="345.25" y1="663.20" x2="350.10" y2="661.62"/><line x1="345.25" y1="663.20" x2="348.25" y2="667.33"/><line x1="345.25" y1="663.20" x2="342.25" y2="667.33"/><line x1="345.25" y1="663.20" x2="340.40" y2="661.62"/></g><g stroke="#1a1413" stroke-width="2.3" stroke-linecap="butt"><line x1="357.65" y1="663.20" x2="357.65" y2="658.10"/><line x1="357.65" y1="663.20" x2="362.50" y2="661.62"/><line x1="357.65" y1="663.20" x2="360.65" y2="667.33"/><line x1="357.65" y1="663.20" x2="354.65" y2="667.33"/><line x1="357.65" y1="663.20" x2="352.80" y2="661.62"/></g>
<rect x="384.20" y="632.40" width="17.7" height="9.2" fill="#32385f"/>
<rect x="384.20" y="657.10" width="17.7" height="9.2" fill="#c3d7f0"/>
<rect x="384.20" y="681.90" width="17.7" height="9.2" fill="#8d2b30"/>
<text transform="translate(412.00,641.60) scale(0.99,1.043)" font-size="13.6" font-weight="bold" fill="#000">The Whole Kidney</text>
<text transform="translate(412.00,666.30) scale(0.99,1.043)" font-size="13.6" font-weight="bold" fill="#000">Renal Medulla</text>
<text transform="translate(412.00,691.00) scale(0.99,1.043)" font-size="13.6" font-weight="bold" fill="#000">Renal Cortex</text>
<rect x="604.05" y="712.05" width="15.90" height="89.45" fill="#32385f"/>
<path d="M612.00 712.55V693.21M607.80 694.01H616.20" stroke="#32385f" stroke-width="1.45" fill="none"/>
<rect x="627.98" y="725.64" width="15.90" height="75.86" fill="#32385f"/>
<path d="M635.93 726.14V714.64M631.73 715.44H640.13" stroke="#32385f" stroke-width="1.45" fill="none"/>
<rect x="651.91" y="700.54" width="15.90" height="100.96" fill="#32385f"/>
<path d="M659.86 701.04V694.34M655.66 695.14H664.06" stroke="#32385f" stroke-width="1.45" fill="none"/>
<rect x="675.84" y="742.28" width="15.90" height="59.22" fill="#32385f"/>
<path d="M683.79 742.78V727.62M679.59 728.42H687.99" stroke="#32385f" stroke-width="1.45" fill="none"/>
<rect x="711.73" y="681.93" width="15.90" height="119.57" fill="#c3d7f0"/>
<path d="M719.68 682.43V657.12M715.48 657.92H723.88" stroke="#b3cdf0" stroke-width="1.45" fill="none"/>
<rect x="735.66" y="699.98" width="15.90" height="101.52" fill="#c3d7f0"/>
<path d="M743.62 700.48V695.75M739.41 696.55H747.82" stroke="#b3cdf0" stroke-width="1.45" fill="none"/>
<rect x="759.59" y="661.80" width="15.90" height="139.70" fill="#c3d7f0"/>
<path d="M767.54 662.30V646.17M763.34 646.97H771.75" stroke="#b3cdf0" stroke-width="1.45" fill="none"/>
<rect x="783.52" y="707.88" width="15.90" height="93.62" fill="#c3d7f0"/>
<path d="M791.48 708.38V695.75M787.27 696.55H795.68" stroke="#b3cdf0" stroke-width="1.45" fill="none"/>
<rect x="819.42" y="716.34" width="15.90" height="85.16" fill="#8d2b30"/>
<path d="M827.37 716.84V705.34M823.17 706.14H831.57" stroke="#8d2b30" stroke-width="1.45" fill="none"/>
<rect x="843.35" y="733.26" width="15.90" height="68.24" fill="#8d2b30"/>
<path d="M851.30 733.76V726.77M847.10 727.57H855.50" stroke="#8d2b30" stroke-width="1.45" fill="none"/>
<rect x="867.28" y="708.44" width="15.90" height="93.06" fill="#8d2b30"/>
<path d="M875.23 708.94V703.36M871.03 704.16H879.43" stroke="#8d2b30" stroke-width="1.45" fill="none"/>
<rect x="891.21" y="739.07" width="15.90" height="62.43" fill="#8d2b30"/>
<path d="M899.16 739.57V734.10M894.96 734.90H903.36" stroke="#8d2b30" stroke-width="1.45" fill="none"/>
<rect x="595.75" y="631.00" width="2.6" height="171.80" fill="#000000"/>
<rect x="589.75" y="800.10" width="327.95" height="2.8" fill="#000000"/>
<rect x="589.75" y="743.80" width="7.3" height="2.6" fill="#000000"/>
<rect x="589.75" y="687.40" width="7.3" height="2.6" fill="#000000"/>
<rect x="589.75" y="631.00" width="7.3" height="2.6" fill="#000000"/>
<text transform="translate(587.85,806.00) scale(1.0,1.0)" text-anchor="end" font-size="12.5" font-weight="bold" fill="#000">0</text>
<text transform="translate(587.85,749.60) scale(1.0,1.0)" text-anchor="end" font-size="12.5" font-weight="bold" fill="#000">1</text>
<text transform="translate(587.85,693.20) scale(1.0,1.0)" text-anchor="end" font-size="12.5" font-weight="bold" fill="#000">2</text>
<text transform="translate(587.85,636.80) scale(1.0,1.0)" text-anchor="end" font-size="12.5" font-weight="bold" fill="#000">3</text>
<rect x="610.70" y="801.50" width="2.6" height="8.2" fill="#000000"/>
<rect x="634.63" y="801.50" width="2.6" height="8.2" fill="#000000"/>
<rect x="658.56" y="801.50" width="2.6" height="8.2" fill="#000000"/>
<rect x="682.49" y="801.50" width="2.6" height="8.2" fill="#000000"/>
<rect x="718.38" y="801.50" width="2.6" height="8.2" fill="#000000"/>
<rect x="742.32" y="801.50" width="2.6" height="8.2" fill="#000000"/>
<rect x="766.25" y="801.50" width="2.6" height="8.2" fill="#000000"/>
<rect x="790.18" y="801.50" width="2.6" height="8.2" fill="#000000"/>
<rect x="826.07" y="801.50" width="2.6" height="8.2" fill="#000000"/>
<rect x="850.00" y="801.50" width="2.6" height="8.2" fill="#000000"/>
<rect x="873.93" y="801.50" width="2.6" height="8.2" fill="#000000"/>
<rect x="897.86" y="801.50" width="2.6" height="8.2" fill="#000000"/>
<text transform="translate(614.90,822.00) scale(1.0,1.0) rotate(-45)" text-anchor="end" font-size="12.65" font-weight="bold" fill="#000">WKY-Before-RDN</text>
<text transform="translate(638.83,822.00) scale(1.0,1.0) rotate(-45)" text-anchor="end" font-size="12.65" font-weight="bold" fill="#000">WKY-After-RDN</text>
<text transform="translate(662.76,822.00) scale(1.0,1.0) rotate(-45)" text-anchor="end" font-size="12.65" font-weight="bold" fill="#000">SHR-Before-RDN</text>
<text transform="translate(686.69,822.00) scale(1.0,1.0) rotate(-45)" text-anchor="end" font-size="12.65" font-weight="bold" fill="#000">SHR-After-RDN</text>
<text transform="translate(722.58,822.00) scale(1.0,1.0) rotate(-45)" text-anchor="end" font-size="12.65" font-weight="bold" fill="#000">WKY-Before-RDN</text>
<text transform="translate(746.51,822.00) scale(1.0,1.0) rotate(-45)" text-anchor="end" font-size="12.65" font-weight="bold" fill="#000">WKY-After-RDN</text>
<text transform="translate(770.44,822.00) scale(1.0,1.0) rotate(-45)" text-anchor="end" font-size="12.65" font-weight="bold" fill="#000">SHR-Before-RDN</text>
<text transform="translate(794.38,822.00) scale(1.0,1.0) rotate(-45)" text-anchor="end" font-size="12.65" font-weight="bold" fill="#000">SHR-After-RDN</text>
<text transform="translate(830.27,822.00) scale(1.0,1.0) rotate(-45)" text-anchor="end" font-size="12.65" font-weight="bold" fill="#000">WKY-Before-RDN</text>
<text transform="translate(854.20,822.00) scale(1.0,1.0) rotate(-45)" text-anchor="end" font-size="12.65" font-weight="bold" fill="#000">WKY-After-RDN</text>
<text transform="translate(878.13,822.00) scale(1.0,1.0) rotate(-45)" text-anchor="end" font-size="12.65" font-weight="bold" fill="#000">SHR-Before-RDN</text>
<text transform="translate(902.06,822.00) scale(1.0,1.0) rotate(-45)" text-anchor="end" font-size="12.65" font-weight="bold" fill="#000">SHR-After-RDN</text>
<text transform="translate(572.20,717.30) scale(1.0,1.0) rotate(-90)" text-anchor="middle" font-size="13.5" font-weight="bold" fill="#000">SUV</text>
<text transform="translate(709.00,591.30) scale(1.0,1.0)" font-size="18" font-weight="bold" fill="#000">Left Kidney</text>
<rect x="659.40" y="669.50" width="26.80" height="3.6" fill="#1a1413"/>
<g stroke="#1a1413" stroke-width="2.3" stroke-linecap="butt"><line x1="666.60" y1="657.28" x2="666.60" y2="652.18"/><line x1="666.60" y1="657.28" x2="671.45" y2="655.71"/><line x1="666.60" y1="657.28" x2="669.60" y2="661.41"/><line x1="666.60" y1="657.28" x2="663.60" y2="661.41"/><line x1="666.60" y1="657.28" x2="661.75" y2="655.71"/></g><g stroke="#1a1413" stroke-width="2.3" stroke-linecap="butt"><line x1="679.00" y1="657.28" x2="679.00" y2="652.18"/><line x1="679.00" y1="657.28" x2="683.85" y2="655.71"/><line x1="679.00" y1="657.28" x2="682.00" y2="661.41"/><line x1="679.00" y1="657.28" x2="676.00" y2="661.41"/><line x1="679.00" y1="657.28" x2="674.15" y2="655.71"/></g>
<rect x="767.40" y="624.90" width="26.60" height="3.6" fill="#1a1413"/>
<g stroke="#1a1413" stroke-width="2.3" stroke-linecap="butt"><line x1="780.70" y1="612.68" x2="780.70" y2="607.58"/><line x1="780.70" y1="612.68" x2="785.55" y2="611.11"/><line x1="780.70" y1="612.68" x2="783.70" y2="616.81"/><line x1="780.70" y1="612.68" x2="777.70" y2="616.81"/><line x1="780.70" y1="612.68" x2="775.85" y2="611.11"/></g>
<rect x="828.10" y="682.70" width="26.70" height="3.6" fill="#1a1413"/>
<g stroke="#1a1413" stroke-width="2.3" stroke-linecap="butt"><line x1="841.45" y1="670.48" x2="841.45" y2="665.38"/><line x1="841.45" y1="670.48" x2="846.30" y2="668.91"/><line x1="841.45" y1="670.48" x2="844.45" y2="674.61"/><line x1="841.45" y1="670.48" x2="838.45" y2="674.61"/><line x1="841.45" y1="670.48" x2="836.60" y2="668.91"/></g>
<rect x="875.60" y="682.70" width="26.50" height="3.6" fill="#1a1413"/>
<g stroke="#1a1413" stroke-width="2.3" stroke-linecap="butt"><line x1="882.65" y1="670.48" x2="882.65" y2="665.38"/><line x1="882.65" y1="670.48" x2="887.50" y2="668.91"/><line x1="882.65" y1="670.48" x2="885.65" y2="674.61"/><line x1="882.65" y1="670.48" x2="879.65" y2="674.61"/><line x1="882.65" y1="670.48" x2="877.80" y2="668.91"/></g><g stroke="#1a1413" stroke-width="2.3" stroke-linecap="butt"><line x1="895.05" y1="670.48" x2="895.05" y2="665.38"/><line x1="895.05" y1="670.48" x2="899.90" y2="668.91"/><line x1="895.05" y1="670.48" x2="898.05" y2="674.61"/><line x1="895.05" y1="670.48" x2="892.05" y2="674.61"/><line x1="895.05" y1="670.48" x2="890.20" y2="668.91"/></g>
<rect x="916.80" y="640.00" width="17.7" height="8.8" fill="#32385f"/>
<rect x="916.80" y="664.00" width="17.7" height="8.8" fill="#c3d7f0"/>
<rect x="916.80" y="687.70" width="17.7" height="8.8" fill="#8d2b30"/>
<text transform="translate(944.80,649.00) scale(1.0,1.0)" font-size="13.6" font-weight="bold" fill="#000">The Whole Kidney</text>
<text transform="translate(944.80,673.00) scale(1.0,1.0)" font-size="13.6" font-weight="bold" fill="#000">Renal Medulla</text>
<text transform="translate(944.80,696.70) scale(1.0,1.0)" font-size="13.6" font-weight="bold" fill="#000">Renal Cortex</text>
</svg>
</body></html>
